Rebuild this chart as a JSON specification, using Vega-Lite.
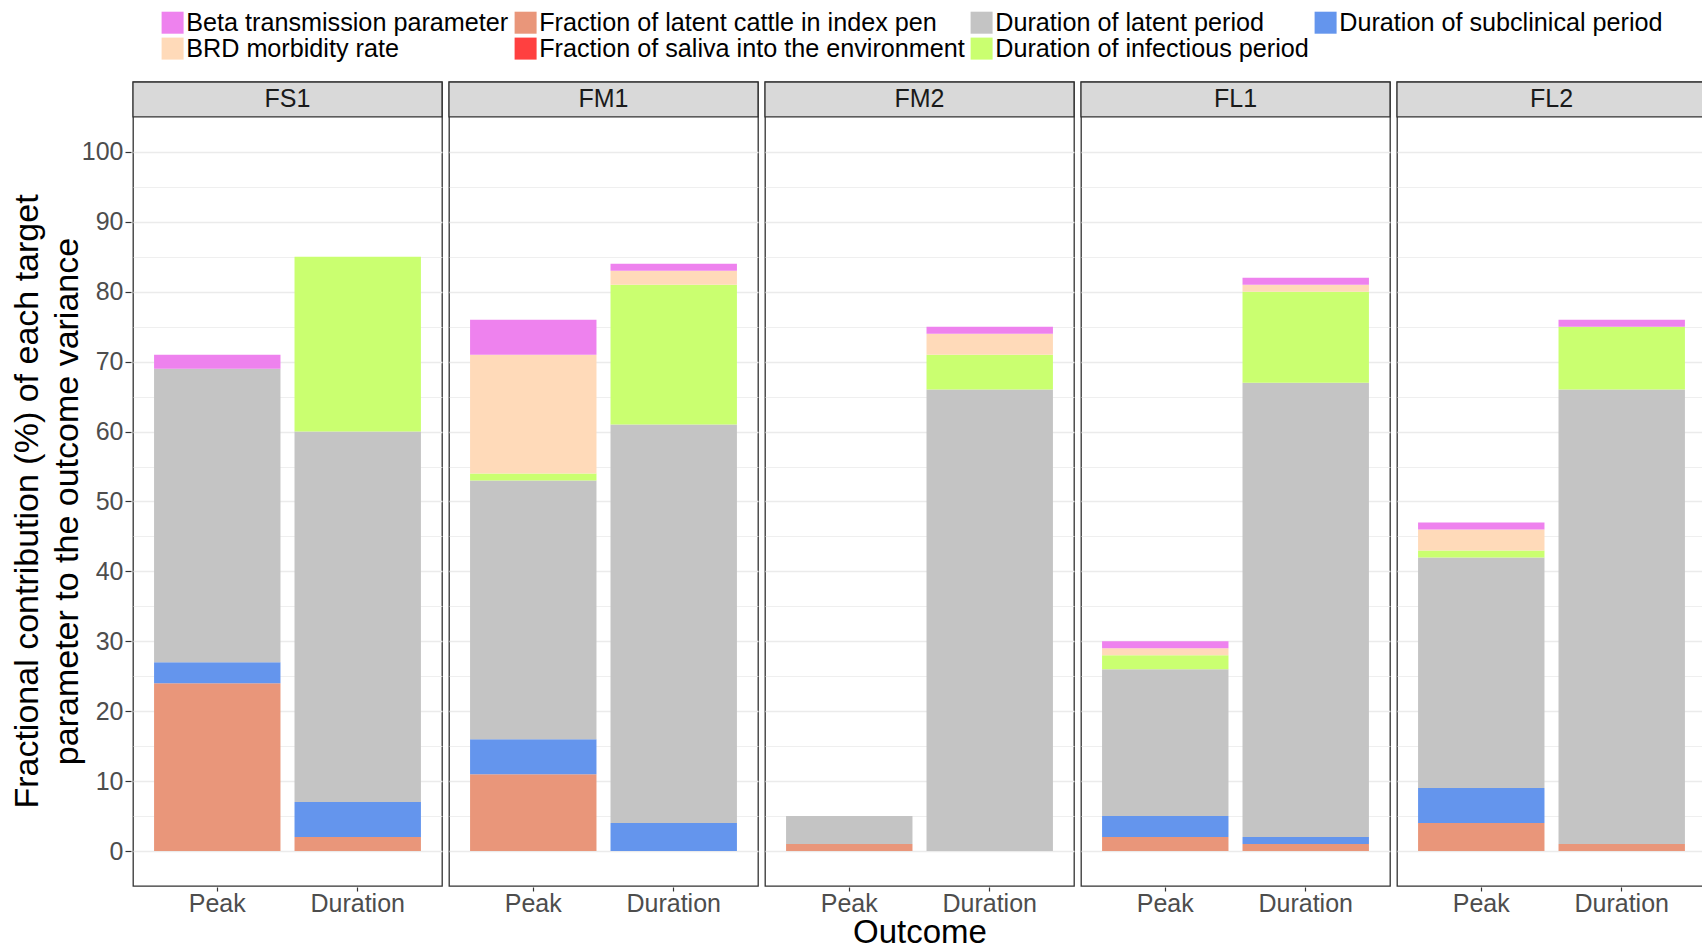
{
  "$schema": "https://vega.github.io/schema/vega-lite/v6.json",
  "padding": {"left": 10, "top": 10, "right": 0, "bottom": 0},
  "data": {"values": [
    {"Scenario": "FS1", "Outcome": "Peak", "Parameter": "Fraction of latent cattle in index pen", "value": 24},
    {"Scenario": "FS1", "Outcome": "Peak", "Parameter": "Duration of subclinical period", "value": 3},
    {"Scenario": "FS1", "Outcome": "Peak", "Parameter": "Duration of latent period", "value": 42},
    {"Scenario": "FS1", "Outcome": "Peak", "Parameter": "Beta transmission parameter", "value": 2},
    {"Scenario": "FS1", "Outcome": "Duration", "Parameter": "Fraction of latent cattle in index pen", "value": 2},
    {"Scenario": "FS1", "Outcome": "Duration", "Parameter": "Duration of subclinical period", "value": 5},
    {"Scenario": "FS1", "Outcome": "Duration", "Parameter": "Duration of latent period", "value": 53},
    {"Scenario": "FS1", "Outcome": "Duration", "Parameter": "Duration of infectious period", "value": 25},
    {"Scenario": "FM1", "Outcome": "Peak", "Parameter": "Fraction of latent cattle in index pen", "value": 11},
    {"Scenario": "FM1", "Outcome": "Peak", "Parameter": "Duration of subclinical period", "value": 5},
    {"Scenario": "FM1", "Outcome": "Peak", "Parameter": "Duration of latent period", "value": 37},
    {"Scenario": "FM1", "Outcome": "Peak", "Parameter": "Duration of infectious period", "value": 1},
    {"Scenario": "FM1", "Outcome": "Peak", "Parameter": "BRD morbidity rate", "value": 17},
    {"Scenario": "FM1", "Outcome": "Peak", "Parameter": "Beta transmission parameter", "value": 5},
    {"Scenario": "FM1", "Outcome": "Duration", "Parameter": "Duration of subclinical period", "value": 4},
    {"Scenario": "FM1", "Outcome": "Duration", "Parameter": "Duration of latent period", "value": 57},
    {"Scenario": "FM1", "Outcome": "Duration", "Parameter": "Duration of infectious period", "value": 20},
    {"Scenario": "FM1", "Outcome": "Duration", "Parameter": "BRD morbidity rate", "value": 2},
    {"Scenario": "FM1", "Outcome": "Duration", "Parameter": "Beta transmission parameter", "value": 1},
    {"Scenario": "FM2", "Outcome": "Peak", "Parameter": "Fraction of latent cattle in index pen", "value": 1},
    {"Scenario": "FM2", "Outcome": "Peak", "Parameter": "Duration of latent period", "value": 4},
    {"Scenario": "FM2", "Outcome": "Duration", "Parameter": "Duration of latent period", "value": 66},
    {"Scenario": "FM2", "Outcome": "Duration", "Parameter": "Duration of infectious period", "value": 5},
    {"Scenario": "FM2", "Outcome": "Duration", "Parameter": "BRD morbidity rate", "value": 3},
    {"Scenario": "FM2", "Outcome": "Duration", "Parameter": "Beta transmission parameter", "value": 1},
    {"Scenario": "FL1", "Outcome": "Peak", "Parameter": "Fraction of latent cattle in index pen", "value": 2},
    {"Scenario": "FL1", "Outcome": "Peak", "Parameter": "Duration of subclinical period", "value": 3},
    {"Scenario": "FL1", "Outcome": "Peak", "Parameter": "Duration of latent period", "value": 21},
    {"Scenario": "FL1", "Outcome": "Peak", "Parameter": "Duration of infectious period", "value": 2},
    {"Scenario": "FL1", "Outcome": "Peak", "Parameter": "BRD morbidity rate", "value": 1},
    {"Scenario": "FL1", "Outcome": "Peak", "Parameter": "Beta transmission parameter", "value": 1},
    {"Scenario": "FL1", "Outcome": "Duration", "Parameter": "Fraction of latent cattle in index pen", "value": 1},
    {"Scenario": "FL1", "Outcome": "Duration", "Parameter": "Duration of subclinical period", "value": 1},
    {"Scenario": "FL1", "Outcome": "Duration", "Parameter": "Duration of latent period", "value": 65},
    {"Scenario": "FL1", "Outcome": "Duration", "Parameter": "Duration of infectious period", "value": 13},
    {"Scenario": "FL1", "Outcome": "Duration", "Parameter": "BRD morbidity rate", "value": 1},
    {"Scenario": "FL1", "Outcome": "Duration", "Parameter": "Beta transmission parameter", "value": 1},
    {"Scenario": "FL2", "Outcome": "Peak", "Parameter": "Fraction of latent cattle in index pen", "value": 4},
    {"Scenario": "FL2", "Outcome": "Peak", "Parameter": "Duration of subclinical period", "value": 5},
    {"Scenario": "FL2", "Outcome": "Peak", "Parameter": "Duration of latent period", "value": 33},
    {"Scenario": "FL2", "Outcome": "Peak", "Parameter": "Duration of infectious period", "value": 1},
    {"Scenario": "FL2", "Outcome": "Peak", "Parameter": "BRD morbidity rate", "value": 3},
    {"Scenario": "FL2", "Outcome": "Peak", "Parameter": "Beta transmission parameter", "value": 1},
    {"Scenario": "FL2", "Outcome": "Duration", "Parameter": "Fraction of latent cattle in index pen", "value": 1},
    {"Scenario": "FL2", "Outcome": "Duration", "Parameter": "Duration of latent period", "value": 65},
    {"Scenario": "FL2", "Outcome": "Duration", "Parameter": "Duration of infectious period", "value": 9},
    {"Scenario": "FL2", "Outcome": "Duration", "Parameter": "Beta transmission parameter", "value": 1}
  ]},
  "transform": [
    {"calculate": "indexof(['Fraction of latent cattle in index pen','Duration of subclinical period','Duration of latent period','Duration of infectious period','BRD morbidity rate','Beta transmission parameter'], datum.Parameter)", "as": "stackRank"}
  ],
  "facet": {
    "column": {
      "field": "Scenario", "type": "nominal",
      "sort": ["FS1", "FM1", "FM2", "FL1", "FL2"],
      "header": {"title": "Outcome", "titleOrient": "bottom", "labels": false, "titleFontSize": 33, "titleFontWeight": "normal", "titleColor": "#000000", "titlePadding": -9}
    }
  },
  "spacing": 3,
  "spec": {
    "width": 309,
    "height": 804,
    "layer": [
      {
        "mark": {"type": "bar"},
        "encoding": {
          "x": {
            "field": "Outcome", "type": "nominal", "sort": ["Peak", "Duration"],
            "scale": {"paddingInner": 0.1, "paddingOuter": 0.15},
            "axis": {"title": null, "labelAngle": 0, "labelFontSize": 25, "labelColor": "#4D4D4D", "tickSize": 4, "tickColor": "#333333", "tickWidth": 1.2, "domain": false, "grid": false, "labelPadding": 0}
          },
          "y": {
            "field": "value", "type": "quantitative", "stack": "zero",
            "scale": {"domain": [-5, 110], "nice": false, "zero": false},
            "axis": {
              "values": [0, 5, 10, 15, 20, 25, 30, 35, 40, 45, 50, 55, 60, 65, 70, 75, 80, 85, 90, 95, 100],
              "labelExpr": "datum.value % 10 === 0 ? datum.label : ''",
              "title": ["Fractional contribution (%) of each target", "parameter to the outcome variance"],
              "titleFontSize": 34, "titleFontWeight": "normal", "titleColor": "#000000", "titleLineHeight": 40, "titlePadding": -3, "titleY": 419,
              "labelFontSize": 25, "labelColor": "#4D4D4D", "labelPadding": 2,
              "tickSize": 6, "tickColor": "#333333", "tickWidth": 1.2,
              "tickOpacity": {"condition": {"test": "datum.value % 10 === 0", "value": 1}, "value": 0},
              "domain": false,
              "grid": true, "gridColor": "#EBEBEB",
              "gridWidth": {"condition": {"test": "datum.value % 10 === 0", "value": 1.4}, "value": 0.8}
            }
          },
          "color": {
            "field": "Parameter", "type": "nominal",
            "scale": {
              "domain": ["Beta transmission parameter", "Fraction of latent cattle in index pen", "Duration of latent period", "Duration of subclinical period", "BRD morbidity rate", "Fraction of saliva into the environment", "Duration of infectious period"],
              "range": ["#EE82EE", "#E9967A", "#C4C4C4", "#6495ED", "#FFDAB9", "#FF4040", "#CAFF70"]
            },
            "legend": {
              "orient": "none", "legendX": 27, "legendY": -72, "columns": 4, "direction": "horizontal", "title": null,
              "symbolType": "square", "symbolSize": 484, "symbolStrokeWidth": 0, "symbolOpacity": 1,
              "labelFontSize": 25.2, "labelColor": "#000000", "labelLimit": 600, "labelOffset": 1,
              "columnPadding": 4, "rowPadding": -2
            }
          },
          "order": {"field": "stackRank", "type": "quantitative", "sort": "ascending"}
        }
      },
      {
        "transform": [{"aggregate": [{"op": "count", "as": "n"}], "groupby": ["Scenario"]}],
        "mark": {"type": "rect", "fill": "#D9D9D9", "stroke": "#333333", "strokeWidth": 1.3},
        "encoding": {
          "y": {"datum": 105},
          "y2": {"datum": 110}
        }
      },
      {
        "transform": [{"aggregate": [{"op": "count", "as": "n"}], "groupby": ["Scenario"]}],
        "mark": {"type": "text", "fontSize": 25, "color": "#1A1A1A", "baseline": "middle", "align": "center"},
        "encoding": {
          "y": {"datum": 107.5},
          "text": {"field": "Scenario", "type": "nominal"}
        }
      }
    ]
  },
  "config": {
    "font": "Liberation Sans",
    "view": {"stroke": "#333333", "strokeWidth": 1.3},
    "axis": {"labelFont": "Liberation Sans", "titleFont": "Liberation Sans"},
    "header": {"titleFont": "Liberation Sans"},
    "legend": {"labelFont": "Liberation Sans"}
  }
}
